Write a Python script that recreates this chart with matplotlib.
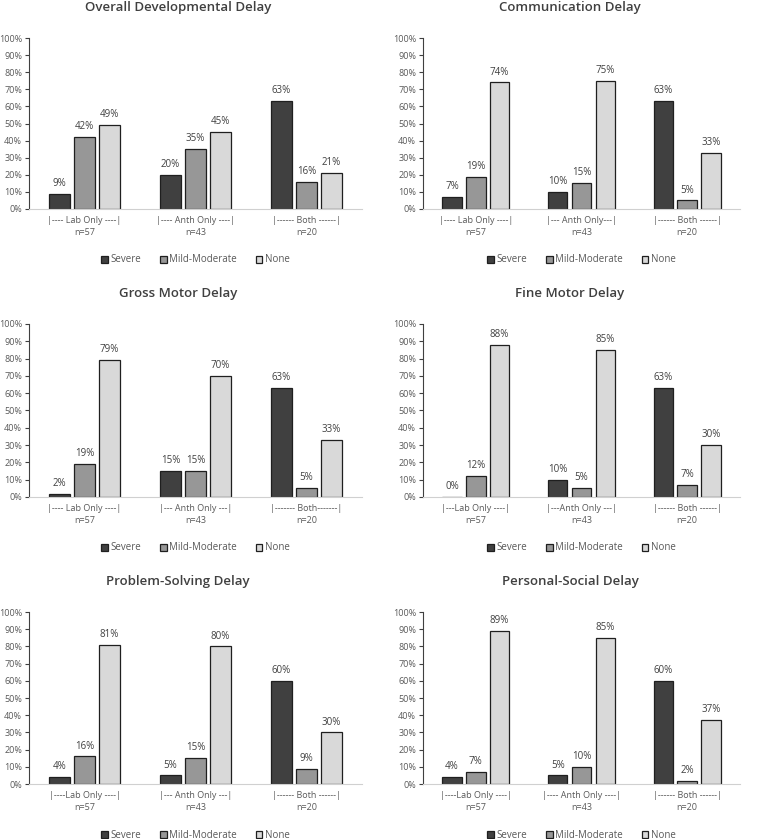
import matplotlib
matplotlib.use("Agg")
import matplotlib.pyplot as plt
import numpy as np

plt.rcParams['font.family'] = ['Open Sans', 'DejaVu Sans']

series = ["Severe", "Mild-Moderate", "None"]
colors = ["#404040", "#979797", "#d9d9d9"]
yticks = [0, 10, 20, 30, 40, 50, 60, 70, 80, 90, 100]

titles = ["Overall Developmental Delay", "Communication Delay",
          "Gross Motor Delay", "Fine Motor Delay",
          "Problem-Solving Delay", "Personal-Social Delay"]

n_labels = ["n=57", "n=43", "n=20"]

cat_labels = [
    ["|---- Lab Only ----|", "|---- Anth Only ----|", "|------ Both ------|"],
    ["|---- Lab Only ----|", "|--- Anth Only---|", "|------ Both ------|"],
    ["|---- Lab Only ----|", "|--- Anth Only ---|", "|------- Both-------|"],
    ["|---Lab Only ----|", "|---Anth Only ---|", "|------ Both ------|"],
    ["|----Lab Only ----|", "|--- Anth Only ---|", "|------ Both ------|"],
    ["|----Lab Only ----|", "|---- Anth Only ----|", "|------ Both ------|"],
]

severe = [[9, 20, 63], [7, 10, 63], [2, 15, 63], [0, 10, 63], [4, 5, 60], [4, 5, 60]]
mild = [[42, 35, 16], [19, 15, 5], [19, 15, 5], [12, 5, 7], [16, 15, 9], [7, 10, 2]]
none = [[49, 45, 21], [74, 75, 33], [79, 70, 33], [88, 85, 30], [81, 80, 30], [89, 85, 37]]

W, H = 757, 839
fig = plt.figure(figsize=(W / 100, H / 100), dpi=100)

# axes pixel boxes: (left, top, right, bottom)
boxes = [
    (29, 38, 362, 209), (423, 38, 740, 209),
    (29, 324, 362, 497), (423, 324, 740, 497),
    (29, 612, 362, 784), (423, 612, 740, 784),
]
title_x = [178, 570]

width = 0.185
offset = 0.225

for i in range(6):
    l, t, r, b = boxes[i]
    ax = fig.add_axes([l / W, 1 - b / H, (r - l) / W, (b - t) / H])
    x = np.arange(3)
    data = [severe[i], mild[i], none[i]]
    for k in range(3):
        ax.bar(x + (k - 1) * offset, data[k], width, color=colors[k],
               edgecolor="#1f1f1f", linewidth=0.9, label=series[k])
        for bx, v in zip(x + (k - 1) * offset, data[k]):
            ax.annotate(f"{v}%", (bx, v), xytext=(0, 3.5), textcoords="offset points",
                        ha="center", va="bottom", fontsize=7, color="#404040")
    ax.set_xlim(-0.5, 2.5)
    ax.set_ylim(0, 100)
    ax.set_yticks(yticks)
    ax.set_yticklabels([f"{v}%" for v in yticks], fontsize=6.5, color="#595959")
    ax.set_xticks(x)
    ax.set_xticklabels([f"{c}\n{n}" for c, n in zip(cat_labels[i], n_labels)],
                       fontsize=6.5, color="#595959", linespacing=1.5)
    ax.tick_params(axis="x", length=0, pad=5)
    ax.tick_params(axis="y", length=3, width=0.8, color="#404040", pad=2)
    for s in ["top", "right"]:
        ax.spines[s].set_visible(False)
    ax.spines["left"].set_color("#404040")
    ax.spines["left"].set_linewidth(0.8)
    ax.spines["bottom"].set_color("#d0d0d0")
    ax.spines["bottom"].set_linewidth(0.8)
    leg_y = 51 / (b - t)
    ax.legend(loc="center", bbox_to_anchor=(0.5, -leg_y), ncol=3, frameon=False,
              fontsize=7, handlelength=0.7, handleheight=0.7, handletextpad=0.3,
              columnspacing=1.9, labelcolor="#595959")
    ty = t - 30
    fig.text(title_x[i % 2] / W, 1 - ty / H, titles[i], ha="center", va="center",
             fontsize=9.5, fontweight="semibold", color="#404040")

fig.savefig("out.png", dpi=100)
